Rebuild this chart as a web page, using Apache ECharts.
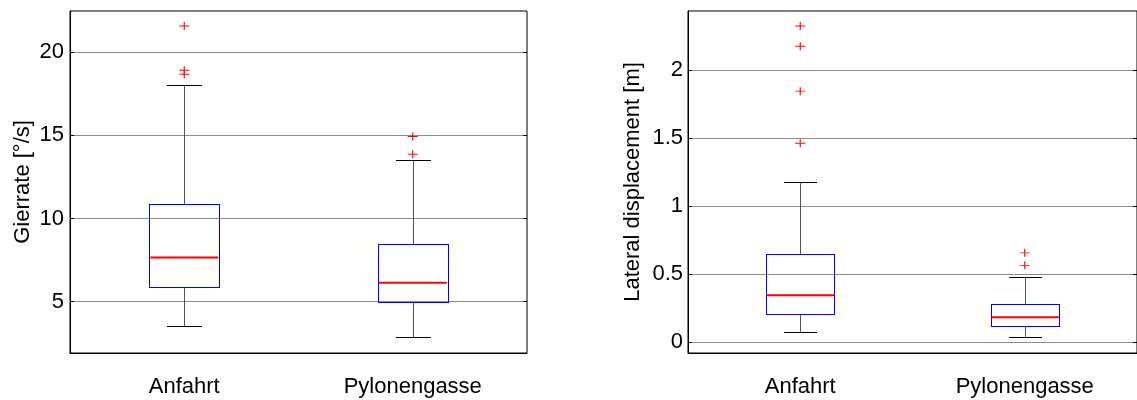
<!DOCTYPE html>
<html>
<head>
<meta charset="utf-8">
<script src="https://cdn.jsdelivr.net/npm/echarts@6/dist/echarts.min.js"></script>
<style>
html,body{margin:0;padding:0;background:#fff;}
#chart{width:1137px;height:400px;}
</style>
</head>
<body>
<div id="chart"></div>
<script>
const categories = ['Anfahrt', 'Pylonengasse'];
// [min whisker, Q1, median, Q3, max whisker]
const gierrateBox = [[3.56, 5.86, 7.66, 10.84, 18.04], [2.86, 4.96, 6.14, 8.48, 13.54]];
const gierrateOutliers = [[0, 21.56], [0, 18.9], [0, 18.66], [1, 14.92], [1, 13.86]];
const lateralBox = [[0.076, 0.207, 0.346, 0.647, 1.176], [0.04, 0.121, 0.185, 0.282, 0.478]];
const lateralOutliers = [[0, 2.325], [0, 2.176], [0, 1.846], [0, 1.463], [1, 0.658], [1, 0.566]];
const gierrateTicks = [5, 10, 15, 20];
const lateralTicks = [0, 0.5, 1, 1.5, 2];

const FONT = 'Liberation Sans, Arial, sans-serif';
const FS = 22;
const chart = echarts.init(document.getElementById('chart'), null, {renderer: 'canvas'});

function hRect(x1, x2, y, color) {
  return {type: 'rect', silent: true,
    shape: {x: Math.round(x1), y: Math.round(y), width: Math.round(x2) - Math.round(x1) + 1, height: 1},
    style: {fill: color, stroke: null}};
}
function vRect(x, y1, y2, color) {
  const a = Math.round(Math.min(y1, y2)), b = Math.round(Math.max(y1, y2));
  return {type: 'rect', silent: true,
    shape: {x: Math.round(x), y: a, width: 1, height: b - a + 1},
    style: {fill: color, stroke: null}};
}

function renderBox(params, api) {
  const xi = api.value(0);
  const vals = [api.value(1), api.value(2), api.value(3), api.value(4), api.value(5)];
  const bw = api.size([1, 0])[0];
  const pts = vals.map(v => api.coord([xi, v]));
  const cx = Math.round(pts[0][0]);
  const bh = Math.round(bw * 0.152);
  const ch = Math.round(bw * 0.073);
  const y = pts.map(p => Math.round(p[1]));
  const blue = '#0000ff';
  return {
    type: 'group',
    children: [
      vRect(cx, y[3], y[4], '#555555'),
      vRect(cx, y[0], y[1], '#555555'),
      hRect(cx - ch, cx + ch, y[4], '#000000'),
      hRect(cx - ch, cx + ch, y[0], '#000000'),
      hRect(cx - bh, cx + bh, y[3], blue),
      hRect(cx - bh, cx + bh, y[1], blue),
      vRect(cx - bh, y[3], y[1], blue),
      vRect(cx + bh, y[3], y[1], blue)
    ]
  };
}

function boxData(arr) { return arr.map((b, i) => [i].concat(b)); }
function medianData(arr) { return arr.map((b, i) => [i, b[2]]); }

const PLUS = 'path://M0,4L10,4M5,0L5,8';

function xAxisDef(gi) {
  return {
    type: 'category', gridIndex: gi, data: categories, boundaryGap: true,
    axisLine: {show: true, onZero: false, lineStyle: {color: '#000', width: 1}},
    axisTick: {show: false},
    axisLabel: {color: '#000', fontSize: FS, fontFamily: FONT, margin: 23},
    splitLine: {show: false}
  };
}

function yAxisDef(gi, min, max, ticks, name, gap, margin) {
  return {
    type: 'value', gridIndex: gi, min: min, max: max, position: 'left',
    name: name, nameLocation: 'middle', nameGap: gap,
    nameTextStyle: {color: '#000', fontSize: FS, fontFamily: FONT},
    axisLine: {show: true, onZero: false, lineStyle: {color: '#000', width: 1}},
    axisTick: {show: true, inside: true, length: 4, customValues: ticks, lineStyle: {color: '#000'}},
    axisLabel: {color: '#000', fontSize: FS, fontFamily: FONT, margin: margin, customValues: ticks},
    splitLine: {show: true, lineStyle: {color: '#8c8c8c', width: 1}}
  };
}
function yRightDef(gi, min, max, ticks) {
  return {
    type: 'value', gridIndex: gi, min: min, max: max, position: 'right',
    axisLine: {show: false},
    axisTick: {show: true, inside: true, length: 4, customValues: ticks, lineStyle: {color: '#000'}},
    axisLabel: {show: false},
    splitLine: {show: false}
  };
}

function medianSeries(xi, yi, arr) {
  return {type: 'scatter', xAxisIndex: xi, yAxisIndex: yi, data: medianData(arr),
    symbol: 'rect', symbolSize: [68, 2], silent: true, z: 5,
    itemStyle: {color: '#ff0000', opacity: 1}};
}
function outlierSeries(xi, yi, arr) {
  return {type: 'scatter', xAxisIndex: xi, yAxisIndex: yi, data: arr,
    symbol: PLUS, symbolSize: [10, 8], silent: true, z: 6,
    itemStyle: {color: 'rgba(0,0,0,0)', borderColor: '#ff0000', borderWidth: 1, opacity: 1}};
}

const option = {
  backgroundColor: '#fff',
  animation: false,
  grid: [
    {left: 70, top: 11, width: 457, height: 342, show: true, borderColor: '#000', borderWidth: 1, backgroundColor: 'transparent'},
    {left: 688, top: 11, width: 456, height: 342, show: true, borderColor: '#000', borderWidth: 1, backgroundColor: 'transparent'}
  ],
  xAxis: [xAxisDef(0), xAxisDef(1)],
  yAxis: [
    yAxisDef(0, 1.92, 22.46, gierrateTicks, 'Gierrate [°/s]', 36, 6),
    yAxisDef(1, -0.078, 2.435, lateralTicks, 'Lateral displacement [m]', 44, 5),
    yRightDef(0, 1.92, 22.46, gierrateTicks),
    yRightDef(1, -0.078, 2.435, lateralTicks)
  ],
  series: [
    {type: 'custom', xAxisIndex: 0, yAxisIndex: 0, renderItem: renderBox, data: boxData(gierrateBox), encode: {x: 0, y: [1, 2, 3, 4, 5]}, z: 3},
    medianSeries(0, 0, gierrateBox),
    outlierSeries(0, 0, gierrateOutliers),
    {type: 'custom', xAxisIndex: 1, yAxisIndex: 1, renderItem: renderBox, data: boxData(lateralBox), encode: {x: 0, y: [1, 2, 3, 4, 5]}, z: 3},
    medianSeries(1, 1, lateralBox),
    outlierSeries(1, 1, lateralOutliers)
  ]
};
chart.setOption(option);
</script>
</body>
</html>
